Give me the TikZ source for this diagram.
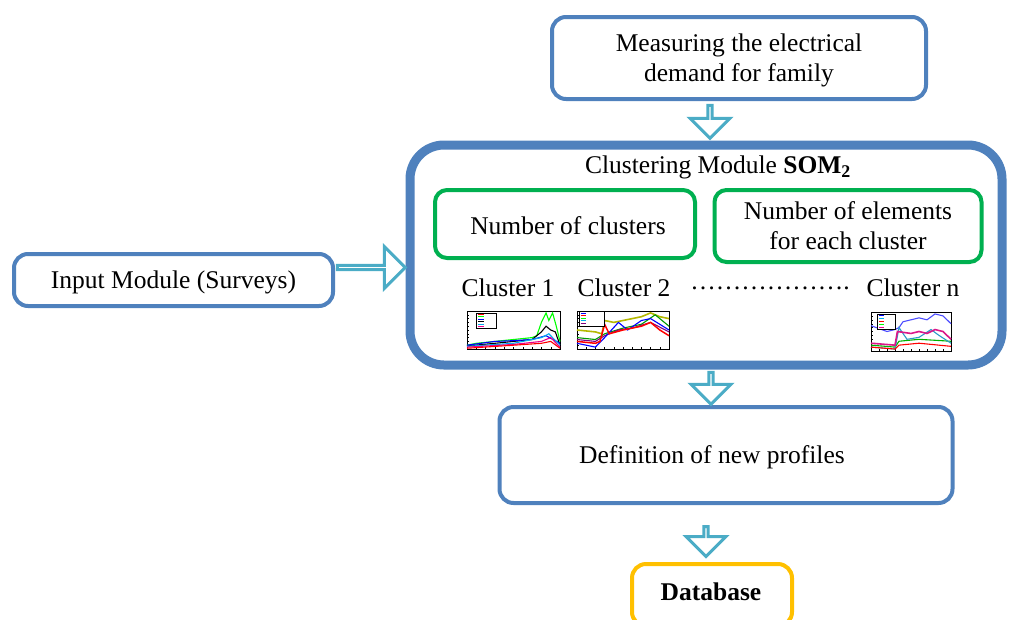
\documentclass[tikz,border=0pt]{standalone}
\usepackage{fontspec}
\setmainfont{Liberation Serif}
\usetikzlibrary{shapes.arrows,calc}
\definecolor{boxblue}{HTML}{4F81BD}
\definecolor{arrcyan}{HTML}{4BACC6}
\definecolor{boxgreen}{HTML}{00B050}
\definecolor{boxorange}{HTML}{FFC000}
\definecolor{olive}{HTML}{B5B800}
\tikzset{
  bluebox/.style={draw=boxblue, line width=4pt, rounded corners=14pt, fill=white, inner sep=0pt, align=center},
  greenbox/.style={draw=boxgreen, line width=4pt, rounded corners=12pt, inner sep=0pt, align=center},
  txt/.style={font=\fontsize{25.5}{30}\selectfont, text depth=0pt},
  harrow/.style={single arrow, draw=arrcyan, line width=3pt, fill=white, inner sep=0pt,
     minimum width=40pt, single arrow head extend=13pt, single arrow head indent=0pt},
  plotline/.style={line width=1.1pt},
}
\newcommand{\legendbox}[4]{\draw[fill=white, line width=0.6pt] (#1,#2) rectangle (#3,#4);}
\begin{document}
\begin{tikzpicture}[x=1pt,y=-1pt, txt]
\useasboundingbox (0,0) rectangle (1009,619);
% nodes
\node[bluebox, minimum width=374pt, minimum height=82pt] (m) at (739,58) {Measuring the electrical\\demand for family};
\node[draw=boxblue, line width=9pt, rounded corners=34pt, fill=white, minimum width=592pt, minimum height=220pt, inner sep=0pt] (som) at (706,255) {};
\node (somtitle) at (718,165) {Clustering Module \textbf{SOM}\textsubscript{\textbf{2}}};
\node[greenbox, minimum width=260pt, minimum height=68pt] (g1) at (565,224) {\hspace*{6pt}\raisebox{-2.5pt}{Number of clusters}};
\node[greenbox, minimum width=267pt, minimum height=72pt] (g2) at (848,226) {Number of elements\\for each cluster};
\node (c1) at (508,288) {Cluster 1};
\node (c2) at (624,288) {Cluster 2};
\node (dots) at (770,288) {……………….};
\node (cn) at (913,288) {Cluster n};
\node[bluebox, minimum width=319pt, minimum height=52pt] (in) at (173.5,280) {Input Module (Surveys)};
\node[bluebox, minimum width=453pt, minimum height=96pt] (def) at (726,455) {Definition of new profiles\hspace*{28pt}};
\node[draw=boxorange, line width=4pt, rounded corners=14pt, fill=white, inner sep=0pt, minimum width=160pt, minimum height=62pt] (db) at (712,595) {};
\node (dbt) at (711,592) {\textbf{Database}};

% hollow arrows
\path (m.south -| 710,0) -- (som.north -| 710,0) node[midway, harrow, rotate=-90, minimum height=33pt] (a1) {};
\path (in.east) -- (som.west) node[midway, harrow, minimum height=68pt, minimum width=42pt, single arrow head extend=14pt] (a2) {};
\path (som.south -| 711,0) -- (def.north -| 711,0) node[midway, harrow, rotate=-90, minimum height=32pt] (a3) {};
\path (def.south -| 706,0) -- (db.north -| 706,0) node[midway, harrow, rotate=-90, minimum height=30pt, xshift=7pt] (a4) {};

% mini plot 1
\begin{scope}[shift={(467,349)}, x=93pt, y=38pt]
  \draw[fill=white, line width=0.8pt] (0,0) rectangle (1,1);
  \foreach \t in {0.1,0.2,...,0.9} {\draw[line width=0.3pt] (\t,0) -- (\t,0.04); \draw[line width=0.3pt] (0,\t) -- (0.02,\t);}
  \draw[plotline, green] (0,0.1)--(0.1,0.15)--(0.3,0.2)--(0.5,0.25)--(0.7,0.3)--(0.75,0.35)--(0.8,0.7)--(0.85,0.95)--(0.88,0.75)--(0.92,0.95)--(0.96,0.6)--(1,0.2);
  \draw[plotline, black] (0,0.08)--(0.3,0.15)--(0.7,0.25)--(0.8,0.45)--(0.85,0.6)--(0.9,0.5)--(0.95,0.45)--(1,0.1);
  \draw[plotline, blue] (0,0.1)--(0.3,0.2)--(0.5,0.22)--(0.7,0.25)--(0.85,0.35)--(1,0.15);
  \draw[plotline, cyan] (0,0.07)--(0.5,0.15)--(0.8,0.3)--(0.88,0.4)--(1,0.1);
  \draw[plotline, magenta] (0,0.05)--(0.5,0.12)--(0.8,0.2)--(0.9,0.3)--(1,0.05);
  \draw[plotline, red] (0,0.02)--(0.5,0.1)--(0.8,0.15)--(0.9,0.2)--(1,0.02);
  \legendbox{0.1}{0.55}{0.32}{0.95}
  \foreach \c [count=\i] in {red,green,blue,black,cyan,magenta}
    \draw[\c, line width=0.9pt] (0.12,0.98-\i*0.065) -- (0.18,0.98-\i*0.065);
\end{scope}
% mini plot 2
\begin{scope}[shift={(577,349)}, x=92pt, y=38pt]
  \draw[fill=white, line width=0.8pt] (0,0) rectangle (1,1);
  \foreach \t in {0.1,0.2,...,0.9} {\draw[line width=0.3pt] (\t,0) -- (\t,0.04); \draw[line width=0.3pt] (0,\t) -- (0.02,\t);}
  \draw[plotline, olive, line width=1.6pt] (0,0.5)--(0.2,0.45)--(0.27,0.4)--(0.3,0.75)--(0.4,0.7)--(0.5,0.75)--(0.6,0.8)--(0.7,0.85)--(0.8,0.95)--(0.9,0.85)--(1,0.8);
  \draw[plotline, green!60!black] (0,0.3)--(0.2,0.25)--(0.3,0.4)--(0.5,0.55)--(0.7,0.65)--(0.85,0.9)--(1,0.6);
  \draw[plotline, violet] (0,0.25)--(0.2,0.2)--(0.3,0.35)--(0.45,0.5)--(0.6,0.55)--(0.8,0.7)--(1,0.45);
  \draw[plotline, blue] (0,0.15)--(0.2,0.05)--(0.3,0.3)--(0.45,0.7)--(0.55,0.5)--(0.7,0.75)--(0.8,0.8)--(1,0.5);
  \draw[plotline, red, line width=1.5pt] (0,0.2)--(0.2,0.15)--(0.25,0.2)--(0.3,0.65)--(0.35,0.4)--(0.5,0.5)--(0.7,0.6)--(0.8,0.7)--(0.9,0.5)--(1,0.35);
  \legendbox{0.02}{0.6}{0.3}{0.98}
  \foreach \c [count=\i] in {blue,red,green,cyan,violet}
    \draw[\c, line width=0.9pt] (0.04,1-\i*0.065) -- (0.1,1-\i*0.065);
\end{scope}
% mini plot 3
\begin{scope}[shift={(871,351)}, x=80pt, y=39pt]
  \draw[fill=white, line width=0.8pt] (0,0) rectangle (1,1);
  \foreach \t in {0.1,0.2,...,0.9} {\draw[line width=0.3pt] (\t,0) -- (\t,0.04); \draw[line width=0.3pt] (0,\t) -- (0.02,\t);}
  \draw[plotline, blue!70] (0,0.65)--(0.2,0.5)--(0.3,0.55)--(0.35,0.6)--(0.4,0.75)--(0.5,0.8)--(0.6,0.85)--(0.7,0.8)--(0.8,0.95)--(0.9,0.9)--(1,0.7);
  \draw[plotline, green!70!black] (0,0.15)--(0.3,0.1)--(0.35,0.25)--(0.6,0.3)--(1,0.25);
  \draw[plotline, cyan!80!black] (0,0.1)--(0.3,0.05)--(0.35,0.6)--(0.45,0.3)--(0.6,0.35)--(0.75,0.55)--(0.85,0.4)--(1,0.2);
  \draw[plotline, magenta!80!violet, line width=1.6pt] (0,0.2)--(0.3,0.15)--(0.33,0.5)--(0.5,0.45)--(0.6,0.5)--(0.7,0.45)--(0.8,0.55)--(0.9,0.5)--(1,0.3);
  \draw[plotline, red] (0,0.1)--(0.3,0.05)--(0.35,0.15)--(0.6,0.2)--(1,0.12);
  \legendbox{0.08}{0.55}{0.3}{0.95}
  \foreach \c [count=\i] in {blue,cyan,red,green,magenta}
    \draw[\c, line width=0.9pt] (0.1,0.98-\i*0.075) -- (0.16,0.98-\i*0.075);
\end{scope}
\end{tikzpicture}
\end{document}
